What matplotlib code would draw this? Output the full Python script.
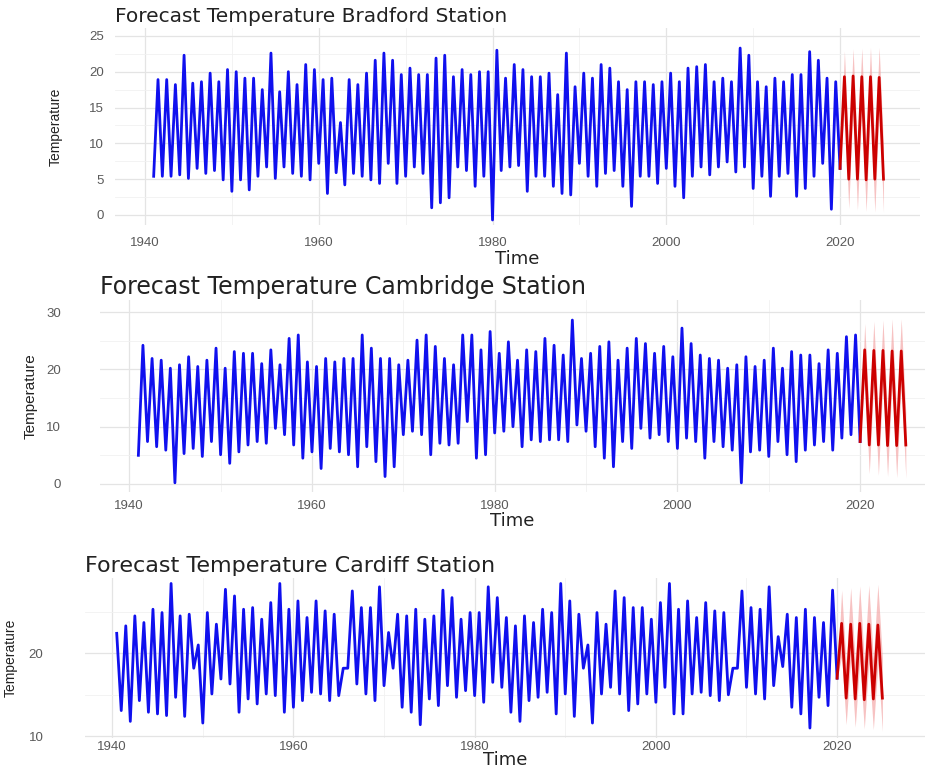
import matplotlib.pyplot as plt
import numpy as np

# Monthly station temperatures, summarised as winter lows (January) and
# summer highs (July), followed by a five year forecast with its interval.

# ---- Bradford -------------------------------------------------------------
bradford_low_start = 1941
bradford_lows = [5.4, 5.4, 5.4, 5.6, 5.1, 6.5, 5.8, 6.2, 4.9, 3.3,
                 4.9, 3.5, 5.4, 6.7, 5.1, 6.7, 5.8, 5.4, 4.9, 7.2,
                 3.0, 5.9, 4.2, 5.8, 5.4, 4.9, 4.4, 7.2, 4.4, 5.4,
                 6.7, 5.8, 1.0, 1.7, 2.4, 6.7, 6.2, 4.0, 5.4, -0.7,
                 6.2, 6.7, 6.9, 3.3, 5.4, 5.4, 4.0, 3.0, 2.8, 7.2,
                 5.4, 4.0, 5.8, 6.2, 4.0, 1.2, 5.4, 5.4, 4.4, 6.5,
                 4.0, 2.4, 5.4, 6.7, 5.6, 6.7, 7.4, 6.0, 6.7, 3.7,
                 5.4, 2.6, 5.4, 5.8, 2.6, 3.7, 5.4, 7.2, 0.8, 6.5]
bradford_high_start = 1941
bradford_highs = [18.9, 18.9, 18.2, 22.3, 18.4, 18.6, 19.8, 18.6, 20.3, 20.0,
                  19.1, 19.1, 17.5, 22.6, 17.2, 20.0, 18.2, 21.0, 20.3, 18.9,
                  19.1, 12.9, 18.9, 18.2, 19.8, 21.6, 22.6, 21.6, 19.6, 20.5,
                  19.6, 19.6, 21.9, 22.3, 19.3, 20.3, 19.6, 20.0, 20.0, 23.0,
                  19.1, 21.0, 20.3, 19.3, 19.3, 19.8, 16.8, 22.6, 17.9, 19.8,
                  19.1, 21.0, 20.5, 18.6, 17.5, 18.6, 18.6, 18.2, 18.6, 19.8,
                  18.6, 20.5, 20.7, 21.0, 18.6, 19.1, 18.6, 23.3, 22.3, 18.6,
                  17.9, 19.1, 18.6, 19.6, 19.6, 22.8, 21.6, 19.1, 18.6]
bradford_fc = [6.5, 19.3, 5.0, 19.4, 5.0, 19.3, 4.9, 19.3, 5.0, 19.2, 5.0]
bradford_fc_upper = [6.5, 22.9, 9.0, 23.2, 9.2, 23.3, 9.2, 23.4, 9.4, 23.4, 9.5]
bradford_fc_lower = [6.5, 15.5, 0.9, 15.4, 0.7, 15.1, 0.5, 15.0, 0.4, 14.9, 0.4]

# ---- Cambridge ------------------------------------------------------------
cambridge_low_start = 1941
cambridge_lows = [5.0, 7.4, 6.5, 5.9, 0.2, 5.3, 6.2, 4.8, 7.4, 5.1,
                  3.6, 5.6, 6.8, 7.4, 7.1, 9.7, 8.6, 6.8, 4.5, 5.6,
                  2.7, 6.2, 5.6, 5.1, 3.0, 6.5, 3.9, 1.3, 3.0, 8.6,
                  9.2, 8.6, 5.1, 7.1, 6.8, 7.1, 10.9, 4.5, 5.1, 8.9,
                  9.2, 10.0, 6.5, 7.7, 7.4, 7.7, 7.7, 7.4, 10.3, 9.2,
                  6.5, 4.5, 3.0, 7.4, 6.2, 9.7, 8.0, 8.6, 7.4, 6.2,
                  8.0, 7.4, 4.5, 7.4, 6.5, 5.9, 0.2, 5.6, 5.9, 4.8,
                  7.4, 5.1, 3.9, 5.9, 6.8, 7.4, 5.9, 8.0, 8.6, 7.4]
cambridge_high_start = 1941
cambridge_highs = [24.2, 21.9, 21.6, 20.2, 20.8, 22.2, 20.5, 21.6, 23.7, 20.2,
                   23.1, 22.8, 22.8, 21.0, 23.4, 20.8, 25.4, 26.0, 21.3, 20.5,
                   21.9, 21.3, 21.9, 21.9, 26.0, 23.7, 21.9, 21.9, 20.8, 21.6,
                   25.1, 26.0, 24.0, 21.9, 20.8, 26.0, 26.0, 23.4, 26.6, 22.8,
                   24.8, 21.6, 23.4, 23.1, 25.4, 24.2, 22.5, 28.6, 21.9, 22.8,
                   24.0, 24.8, 21.6, 23.7, 25.4, 24.5, 22.8, 24.0, 22.2, 27.2,
                   24.5, 22.5, 21.9, 21.6, 20.2, 20.8, 22.2, 20.5, 21.6, 23.7,
                   20.2, 23.1, 22.5, 22.5, 21.0, 23.4, 22.8, 25.7, 26.0]
cambridge_fc = [7.4, 23.4, 6.8, 23.3, 6.8, 23.3, 6.7, 23.2, 6.7, 23.2, 6.8]
cambridge_fc_upper = [7.4, 28.0, 11.8, 28.4, 12.0, 28.6, 12.0, 28.8, 12.2, 28.8, 12.4]
cambridge_fc_lower = [7.4, 18.6, 1.8, 18.2, 1.5, 18.0, 1.3, 17.8, 1.1, 17.6, 1.0]

# ---- Cardiff --------------------------------------------------------------
cardiff_low_start = 1941
cardiff_lows = [13.1, 11.8, 14.3, 12.9, 12.7, 12.5, 14.7, 12.4, 18.2, 11.6,
                15.1, 16.9, 16.3, 12.9, 14.5, 13.9, 15.1, 14.9, 12.9, 13.5,
                14.3, 15.3, 15.1, 14.3, 14.9, 18.2, 16.3, 15.1, 14.3, 16.1,
                18.2, 13.5, 12.9, 11.4, 14.5, 13.7, 16.1, 14.7, 15.5, 14.9,
                14.1, 16.5, 15.9, 12.9, 11.8, 14.3, 14.7, 15.3, 12.7, 15.1,
                12.4, 18.2, 11.6, 15.1, 15.9, 15.1, 13.1, 13.9, 15.1, 14.1,
                15.9, 12.7, 12.7, 15.1, 15.3, 14.9, 14.3, 15.0, 18.2, 15.9,
                15.1, 14.5, 16.1, 18.4, 13.5, 12.7, 11.0, 14.7, 13.7, 17.0]
cardiff_high_start = 1940
cardiff_highs = [22.4, 23.3, 24.5, 23.7, 25.3, 24.9, 28.4, 24.5, 24.7, 21.0,
                 24.9, 23.5, 27.7, 26.9, 25.3, 25.5, 24.1, 26.1, 28.4, 25.3,
                 26.3, 24.3, 26.3, 25.1, 24.7, 18.2, 27.5, 25.5, 25.5, 28.0,
                 22.5, 24.7, 24.5, 25.3, 24.1, 24.5, 27.6, 26.7, 24.1, 24.9,
                 24.9, 28.0, 26.7, 24.3, 23.3, 24.5, 23.7, 25.3, 24.9, 28.4,
                 26.3, 24.7, 21.0, 24.9, 23.5, 27.5, 26.7, 25.5, 25.5, 24.1,
                 26.1, 28.4, 25.3, 26.3, 24.3, 26.1, 25.1, 24.9, 18.2, 27.5,
                 25.5, 25.3, 28.0, 22.0, 24.7, 24.3, 25.3, 24.3, 23.7, 27.6]
cardiff_fc = [17.0, 23.6, 14.6, 23.5, 14.5, 23.6, 14.4, 23.5, 14.5, 23.4, 14.6]
cardiff_fc_upper = [17.0, 27.6, 18.8, 27.9, 19.0, 28.1, 19.1, 28.2, 19.3, 28.3, 19.4]
cardiff_fc_lower = [17.0, 19.6, 11.4, 19.3, 11.1, 19.1, 10.9, 18.9, 10.8, 18.7, 10.6]

fc_start = 2020
year_ticks = [1940, 1960, 1980, 2000, 2020]


def history(low_start, lows, high_start, highs):
    # January lows sit on whole years, July highs half a year later
    t = np.concatenate([low_start + np.arange(len(lows)),
                        high_start + 0.5 + np.arange(len(highs))])
    v = np.concatenate([lows, highs])
    order = np.argsort(t)
    return t[order], v[order]


W, H = 933, 769
fig = plt.figure(figsize=(W / 100, H / 100), dpi=100)
fig.patch.set_facecolor("white")
sans = ["Liberation Sans", "DejaVu Sans"]


def panel(box, xlim, ylim, yticks, yminor, title, title_size, hist, fc, fc_up, fc_lo,
          ytick_pad, xtick_pad, ylab_x, ylab_size, time_pad):
    left, right, top, bottom = box
    ax = fig.add_axes([left / W, 1 - bottom / H, (right - left) / W, (bottom - top) / H])
    for s in ax.spines.values():
        s.set_visible(False)
    ax.set_xlim(*xlim)
    ax.set_ylim(*ylim)
    ax.set_xticks(year_ticks)
    ax.set_xticks([1950, 1970, 1990, 2010], minor=True)
    ax.set_yticks(yticks)
    ax.set_yticks(yminor, minor=True)
    ax.grid(True, which="major", color="#e4e4e4", lw=0.9)
    ax.grid(True, which="minor", color="#f1f1f1", lw=0.6)
    ax.set_axisbelow(True)
    ax.tick_params(which="both", length=0, labelsize=9.5, colors="#5a5a5a")
    ax.tick_params(axis="y", pad=ytick_pad)
    ax.tick_params(axis="x", pad=xtick_pad)
    for lab in ax.get_xticklabels() + ax.get_yticklabels():
        lab.set_family(sans)

    t, v = history(*hist)
    ax.plot(t, v, color="#1010ee", lw=2.0)

    ft = fc_start + 0.5 * np.arange(len(fc))
    ax.fill_between(ft, fc_lo, fc_up, color="#f29a9a", alpha=0.6, lw=0)
    ax.plot(ft, fc, color="#cc0000", lw=2.0)

    ax.set_title(title, loc="left", fontsize=title_size, color="#222222",
                 family="DejaVu Sans", pad=4)
    ax.set_xlabel("Time", fontsize=13, color="#222222", labelpad=time_pad,
                  family="DejaVu Sans")
    ax.set_ylabel("Temperature", fontsize=ylab_size, color="#222222", family=sans)
    # the y label is anchored by its right-hand side once rotated
    ax.yaxis.set_label_coords((ylab_x + ylab_size * 0.6 - left) / (right - left), 0.5)
    return ax


panel((115, 920, 28, 225), (1936.55, 2029.2), (-1.4, 26.1),
      [0, 5, 10, 15, 20, 25], [2.5, 7.5, 12.5, 17.5, 22.5],
      "Forecast Temperature Bradford Station", 14.5,
      (bradford_low_start, bradford_lows, bradford_high_start, bradford_highs),
      bradford_fc, bradford_fc_upper, bradford_fc_lower,
      8, 9, 57, 10, 0)

panel((100, 925, 300, 492), (1936.8, 2027.1), (-1.4, 32.1),
      [0, 10, 20, 30], [5, 15, 25],
      "Forecast Temperature Cambridge Station", 17,
      (cambridge_low_start, cambridge_lows, cambridge_high_start, cambridge_highs),
      cambridge_fc, cambridge_fc_upper, cambridge_fc_lower,
      28, 6, 31, 11, 0)

panel((85, 925, 578, 738), (1937.0, 2029.7), (9.8, 29.06),
      [10, 20], [15, 25],
      "Forecast Temperature Cardiff Station", 16,
      (cardiff_low_start, cardiff_lows, cardiff_high_start, cardiff_highs),
      cardiff_fc, cardiff_fc_upper, cardiff_fc_lower,
      30, 2, 12, 10, -1)

fig.savefig("out.png", dpi=100)
